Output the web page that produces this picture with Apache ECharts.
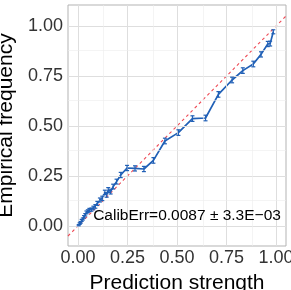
<!DOCTYPE html>
<html><head><meta charset="utf-8">
<script src="https://cdn.jsdelivr.net/npm/echarts@6/dist/echarts.min.js"></script>
<style>html,body{margin:0;padding:0;background:#fff}#c{width:291px;height:290px}</style>
</head><body><div id="c"></div>
<script>
// Data
const predStrength = [0.004,0.009,0.014,0.019,0.025,0.031,0.037,0.043,0.050,0.058,0.068,0.078,0.088,0.098,0.111,0.123,0.136,0.145,0.153,0.165,0.178,0.195,0.216,0.248,0.288,0.333,0.381,0.439,0.507,0.578,0.644,0.709,0.778,0.832,0.885,0.924,0.958,0.970,0.986];
const empFreq      = [0.004,0.012,0.018,0.028,0.035,0.046,0.056,0.068,0.074,0.080,0.082,0.090,0.098,0.113,0.130,0.138,0.168,0.155,0.180,0.172,0.197,0.222,0.255,0.290,0.288,0.285,0.328,0.425,0.467,0.537,0.540,0.658,0.730,0.777,0.810,0.858,0.910,0.912,0.971];
const errHalf      = [0.003,0.004,0.004,0.005,0.005,0.006,0.006,0.007,0.007,0.008,0.008,0.009,0.009,0.010,0.010,0.011,0.011,0.011,0.012,0.012,0.012,0.012,0.013,0.013,0.013,0.013,0.014,0.014,0.014,0.014,0.014,0.014,0.014,0.014,0.014,0.013,0.013,0.012,0.010];
const diagonal = [[-0.05,-0.05],[1.05,1.05]];
const tickValues = [0, 0.25, 0.5, 0.75, 1];
const minorValues = [0.125, 0.375, 0.625, 0.875];
const annotation = 'CalibErr=0.0087 \u00B1 3.3E\u221203';

const pts = predStrength.map((x,i)=>[x, empFreq[i]]);
const errs = predStrength.map((x,i)=>[x, empFreq[i], errHalf[i]]);
const fmt = v => v.toFixed(2);

const chart = echarts.init(document.getElementById('c'), null, {renderer:'canvas'});
const gridMarks = [];
tickValues.forEach(v=>{gridMarks.push({xAxis:v, lineStyle:{color:'#dedede',width:1,type:'solid'}}); gridMarks.push({yAxis:v, lineStyle:{color:'#dedede',width:1,type:'solid'}});});
minorValues.forEach(v=>{gridMarks.push({xAxis:v, lineStyle:{color:'#ededed',width:0.6,type:'solid'}}); gridMarks.push({yAxis:v, lineStyle:{color:'#ededed',width:0.6,type:'solid'}});});

chart.setOption({
  animation:false,
  grid:{left:68, right:5, top:5, bottom:44, show:true, borderColor:'#b3b3b3', borderWidth:1, backgroundColor:'#fff', outerBoundsMode:'none', containLabel:false},
  xAxis:{type:'value', min:-0.05, max:1.05,
    name:'Prediction strength', nameLocation:'middle', nameGap:27,
    nameTextStyle:{fontFamily:'Liberation Sans', fontSize:21, color:'#000'},
    axisLine:{show:false}, splitLine:{show:false},
    axisTick:{show:true, length:3, lineStyle:{color:'#b3b3b3'}, customValues:tickValues},
    axisLabel:{fontFamily:'Liberation Sans', fontSize:18, color:'#333', margin:3, customValues:tickValues, formatter:fmt}},
  yAxis:{type:'value', min:-0.1, max:1.105,
    name:'Empirical frequency', nameLocation:'middle', nameGap:47,
    nameTextStyle:{fontFamily:'Liberation Sans', fontSize:21, color:'#000'},
    axisLine:{show:false}, splitLine:{show:false},
    axisTick:{show:true, length:3, lineStyle:{color:'#b3b3b3'}, customValues:tickValues},
    axisLabel:{fontFamily:'Liberation Sans', fontSize:18, color:'#333', margin:5, customValues:tickValues, formatter:fmt}},
  series:[
    {type:'line', data:[], silent:true, z:1,
     markLine:{silent:true, symbol:'none', label:{show:false}, animation:false, data:gridMarks}},
    {type:'line', data:diagonal, showSymbol:false, silent:true, z:3,
     lineStyle:{color:'#ee4a55', width:1.1, type:[3,3]}},
    {type:'line', data:pts, showSymbol:false, silent:true, z:4,
     lineStyle:{color:'#2160b6', width:1.7}},
    {type:'custom', data:errs, z:5, silent:true,
     renderItem:function(params, api){
       const x=api.value(0), y=api.value(1), e=api.value(2);
       const top=api.coord([x,y+e]), bot=api.coord([x,y-e]);
       const st={stroke:'#2160b6', lineWidth:1.2};
       return {type:'group', children:[
         {type:'line', shape:{x1:top[0],y1:top[1],x2:bot[0],y2:bot[1]}, style:st},
         {type:'line', shape:{x1:top[0]-2,y1:top[1],x2:top[0]+2,y2:top[1]}, style:st},
         {type:'line', shape:{x1:bot[0]-2,y1:bot[1],x2:bot[0]+2,y2:bot[1]}, style:st}
       ]};
     }}
  ],
  graphic:[{type:'text', x:187, y:216, z:10,
    style:{text:annotation, fontFamily:'Liberation Sans', fontSize:15.5, fill:'#000', align:'center', verticalAlign:'middle'}}]
});
</script></body></html>
